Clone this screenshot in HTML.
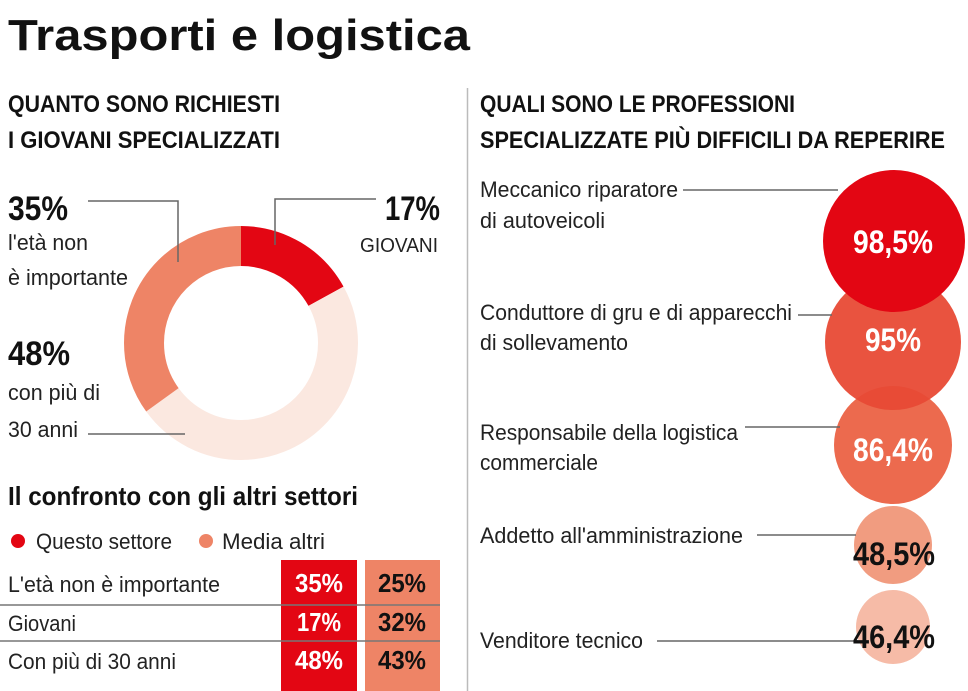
<!DOCTYPE html>
<html><head><meta charset="utf-8"><style>
html,body{margin:0;padding:0;background:#fff;}
svg{display:block}
text{font-family:"Liberation Sans Narrow","Liberation Sans",sans-serif;fill:#222;}
.b{font-weight:bold;fill:#111}
</style></head><body>
<svg width="968" height="691" viewBox="0 0 968 691" xmlns="http://www.w3.org/2000/svg">
<rect width="968" height="691" fill="#fff"/>
<text x="8" y="50" class="b" font-size="44" font-family="Liberation Sans" textLength="462" lengthAdjust="spacingAndGlyphs">Trasporti e logistica</text>
<line x1="467.5" y1="88" x2="467.5" y2="691" stroke="#bbb" stroke-width="1.5"/>
<text x="8" y="112" class="b" font-size="24" textLength="272" lengthAdjust="spacingAndGlyphs">QUANTO SONO RICHIESTI</text>
<text x="8" y="148" class="b" font-size="24" textLength="272" lengthAdjust="spacingAndGlyphs">I GIOVANI SPECIALIZZATI</text>
<text x="480" y="112" class="b" font-size="24" textLength="315" lengthAdjust="spacingAndGlyphs">QUALI SONO LE PROFESSIONI</text>
<text x="480" y="148" class="b" font-size="24" textLength="465" lengthAdjust="spacingAndGlyphs">SPECIALIZZATE PIÙ DIFFICILI DA REPERIRE</text>

<!-- donut -->
<g transform="rotate(-90 241 343)" fill="none" stroke-width="40">
<circle cx="241" cy="343" r="97" stroke="#e30613" stroke-dasharray="103.6 609.5"/>
<circle cx="241" cy="343" r="97" stroke="#fbe8e0" stroke-dasharray="292.6 609.5" stroke-dashoffset="-103.6"/>
<circle cx="241" cy="343" r="97" stroke="#ee8466" stroke-dasharray="213.3 609.5" stroke-dashoffset="-396.2"/>
</g>
<g stroke="#666" stroke-width="1.5" fill="none">
<polyline points="88,201 178,201 178,262"/>
<polyline points="376,199 275,199 275,245"/>
<line x1="88" y1="434" x2="185" y2="434"/>
</g>
<text x="8" y="220" class="b" font-size="34" textLength="60" lengthAdjust="spacingAndGlyphs">35%</text>
<text x="8" y="250" font-size="22" textLength="80" lengthAdjust="spacingAndGlyphs">l'età non</text>
<text x="8" y="285" font-size="22" textLength="120" lengthAdjust="spacingAndGlyphs">è importante</text>
<text x="8" y="365" class="b" font-size="34" textLength="62" lengthAdjust="spacingAndGlyphs">48%</text>
<text x="8" y="400" font-size="22" textLength="92" lengthAdjust="spacingAndGlyphs">con più di</text>
<text x="8" y="437" font-size="22" textLength="70" lengthAdjust="spacingAndGlyphs">30 anni</text>
<text x="385" y="220" class="b" font-size="34" textLength="55" lengthAdjust="spacingAndGlyphs">17%</text>
<text x="360" y="252" font-size="20" textLength="78" lengthAdjust="spacingAndGlyphs">GIOVANI</text>

<text x="8" y="505" class="b" font-size="26" textLength="350" lengthAdjust="spacingAndGlyphs">Il confronto con gli altri settori</text>
<circle cx="18" cy="541" r="7" fill="#e30613"/>
<text x="36" y="549" font-size="22" textLength="136" lengthAdjust="spacingAndGlyphs">Questo settore</text>
<circle cx="206" cy="541" r="7" fill="#ee8466"/>
<text x="222" y="549" font-size="22" textLength="103" lengthAdjust="spacingAndGlyphs">Media altri</text>
<rect x="281" y="560" width="76" height="131" fill="#e30613"/>
<rect x="365" y="560" width="75" height="131" fill="#ee8466"/>
<line x1="0" y1="605" x2="440" y2="605" stroke="#777" stroke-width="1.5"/>
<line x1="0" y1="641" x2="440" y2="641" stroke="#777" stroke-width="1.5"/>
<text x="8" y="592" font-size="22" textLength="212" lengthAdjust="spacingAndGlyphs">L'età non è importante</text>
<text x="8" y="631" font-size="22" textLength="68" lengthAdjust="spacingAndGlyphs">Giovani</text>
<text x="8" y="669" font-size="22" textLength="168" lengthAdjust="spacingAndGlyphs">Con più di 30 anni</text>
<g font-size="26" font-weight="bold" text-anchor="middle">
<text x="319" y="592" style="fill:#fff" textLength="48" lengthAdjust="spacingAndGlyphs">35%</text>
<text x="319" y="631" style="fill:#fff" textLength="44" lengthAdjust="spacingAndGlyphs">17%</text>
<text x="319" y="669" style="fill:#fff" textLength="48" lengthAdjust="spacingAndGlyphs">48%</text>
<text x="402" y="592" style="fill:#111" textLength="48" lengthAdjust="spacingAndGlyphs">25%</text>
<text x="402" y="631" style="fill:#111" textLength="48" lengthAdjust="spacingAndGlyphs">32%</text>
<text x="402" y="669" style="fill:#111" textLength="48" lengthAdjust="spacingAndGlyphs">43%</text>
</g>

<!-- bubbles -->
<circle cx="893" cy="627" r="37" fill="#f6bba7"/>
<circle cx="893" cy="545" r="39" fill="#f19c80"/>
<circle cx="893" cy="445" r="59" fill="#ec6a4e"/>
<circle cx="893" cy="342" r="68" fill="#e84a35" fill-opacity="0.95"/>
<circle cx="894" cy="241" r="71" fill="#e30613"/>
<g stroke="#666" stroke-width="1.5">
<line x1="683" y1="190" x2="838" y2="190"/>
<line x1="798" y1="315" x2="832" y2="315"/>
<line x1="745" y1="427" x2="840" y2="427"/>
<line x1="757" y1="535" x2="856" y2="535"/>
<line x1="657" y1="641" x2="858" y2="641"/>
</g>
<g font-size="22">
<text x="480" y="197" textLength="198" lengthAdjust="spacingAndGlyphs">Meccanico riparatore</text>
<text x="480" y="228" textLength="125" lengthAdjust="spacingAndGlyphs">di autoveicoli</text>
<text x="480" y="320" textLength="312" lengthAdjust="spacingAndGlyphs">Conduttore di gru e di apparecchi</text>
<text x="480" y="350" textLength="148" lengthAdjust="spacingAndGlyphs">di sollevamento</text>
<text x="480" y="440" textLength="258" lengthAdjust="spacingAndGlyphs">Responsabile della logistica</text>
<text x="480" y="470" textLength="118" lengthAdjust="spacingAndGlyphs">commerciale</text>
<text x="480" y="543" textLength="263" lengthAdjust="spacingAndGlyphs">Addetto all'amministrazione</text>
<text x="480" y="648" textLength="163" lengthAdjust="spacingAndGlyphs">Venditore tecnico</text>
</g>
<g font-size="32" font-weight="bold" text-anchor="middle">
<text x="893" y="253" style="fill:#fff" textLength="80" lengthAdjust="spacingAndGlyphs">98,5%</text>
<text x="893" y="351" style="fill:#fff" textLength="56" lengthAdjust="spacingAndGlyphs">95%</text>
<text x="893" y="461" style="fill:#fff" textLength="80" lengthAdjust="spacingAndGlyphs">86,4%</text>
<text x="894" y="565" style="fill:#111" textLength="82" lengthAdjust="spacingAndGlyphs">48,5%</text>
<text x="894" y="648" style="fill:#111" textLength="82" lengthAdjust="spacingAndGlyphs">46,4%</text>
</g>
</svg>
</body></html>
